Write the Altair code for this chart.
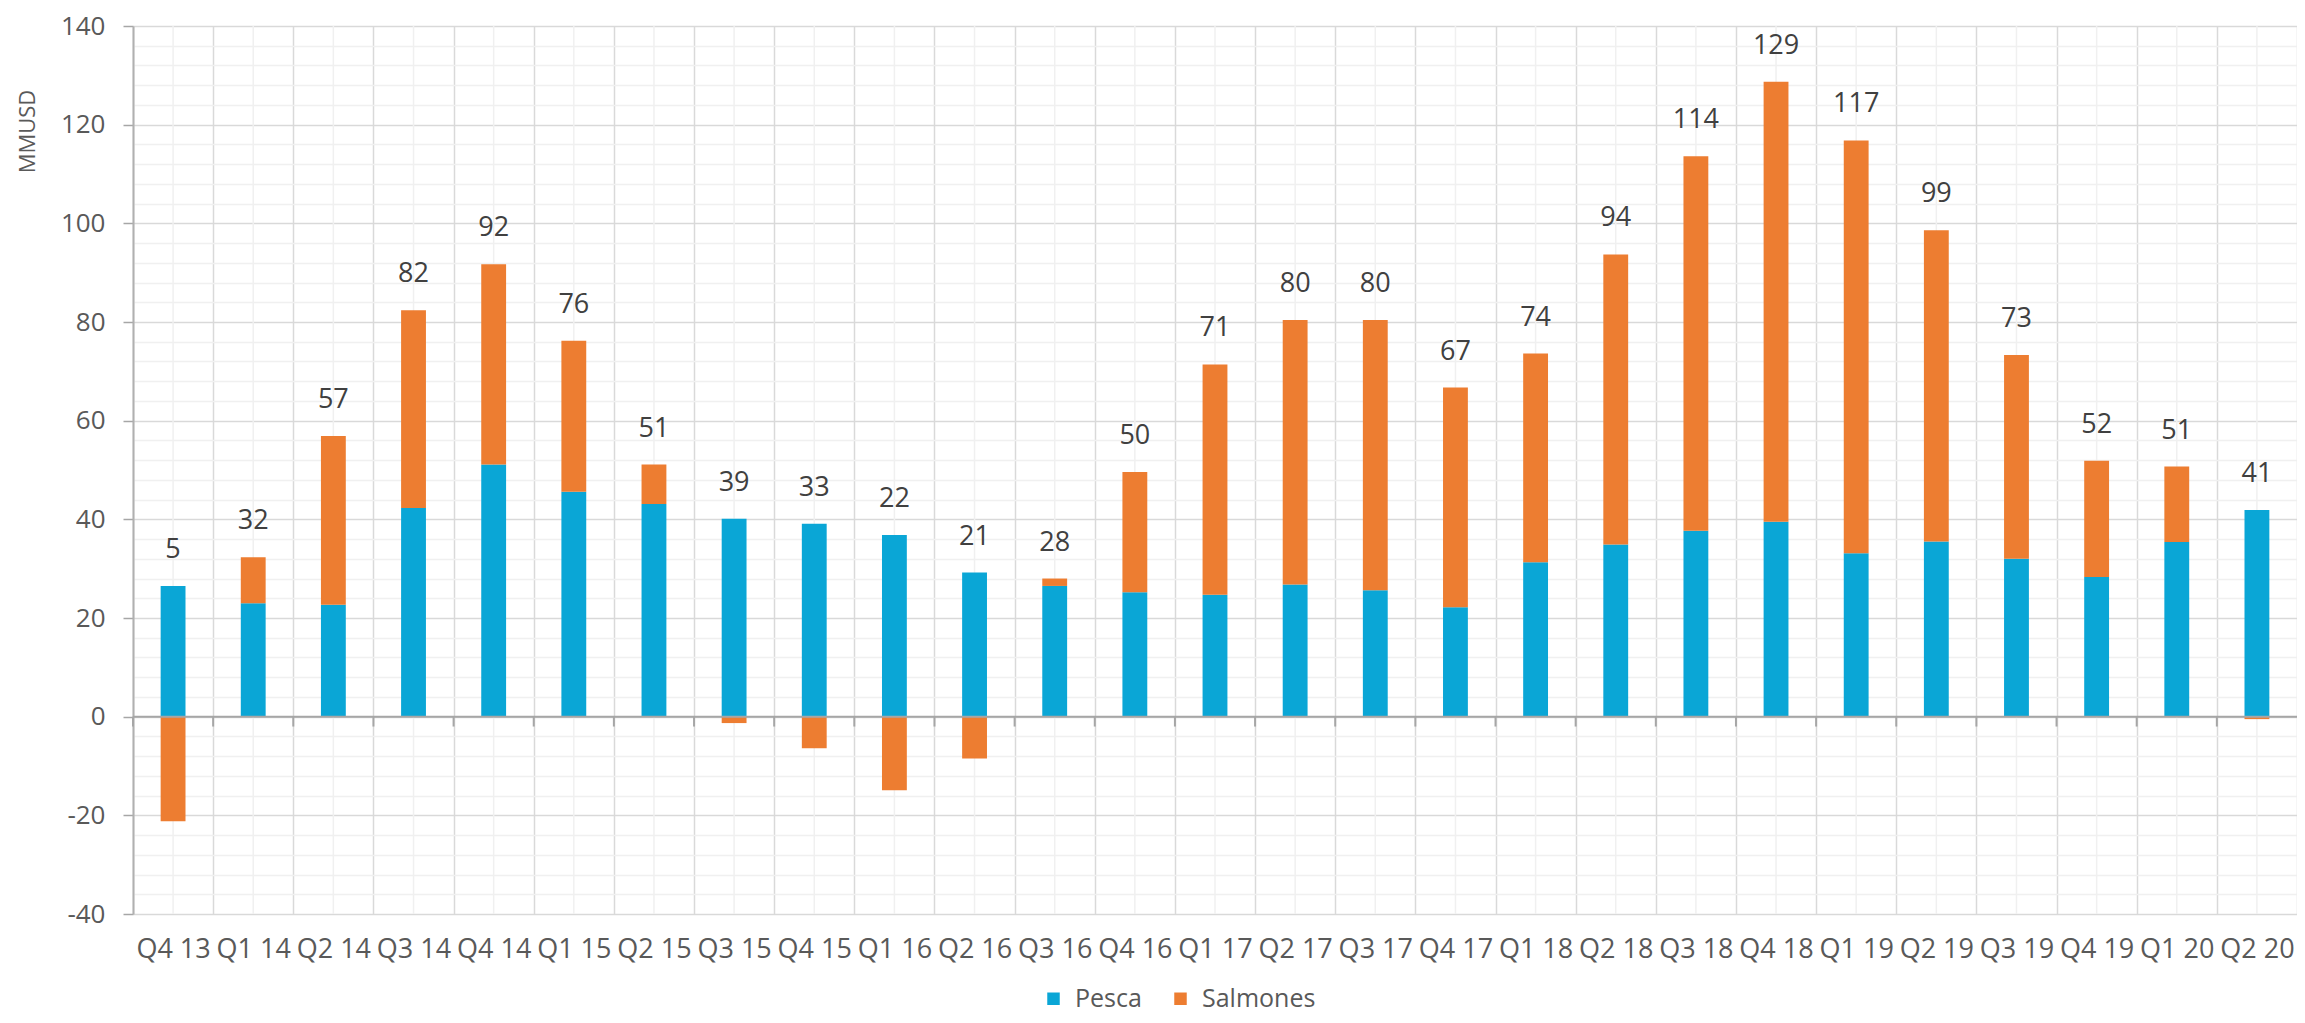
import altair as alt
import pandas as pd

quarters = ["Q4 13", "Q1 14", "Q2 14", "Q3 14", "Q4 14", "Q1 15", "Q2 15", "Q3 15",
            "Q4 15", "Q1 16", "Q2 16", "Q3 16", "Q4 16", "Q1 17", "Q2 17", "Q3 17",
            "Q4 17", "Q1 18", "Q2 18", "Q3 18", "Q4 18", "Q1 19", "Q2 19", "Q3 19",
            "Q4 19", "Q1 20", "Q2 20"]
pesca = [26.5, 23.0, 22.7, 42.3, 51.1, 45.6, 43.1, 40.1, 39.1, 36.8, 29.2, 26.5, 25.2,
         24.7, 26.8, 25.6, 22.2, 31.3, 34.9, 37.7, 39.5, 33.1, 35.5, 32.0, 28.3, 35.4, 41.9]
salmones = [-21.2, 9.3, 34.2, 40.1, 40.6, 30.6, 8.0, -1.3, -6.4, -14.9, -8.5, 1.5, 24.4,
            46.7, 53.6, 54.8, 44.5, 42.3, 58.8, 75.9, 89.2, 83.7, 63.1, 41.3, 23.6, 15.3, -0.5]
totals = [5, 32, 57, 82, 92, 76, 51, 39, 33, 22, 21, 28, 50, 71, 80, 80, 67, 74, 94, 114,
          129, 117, 99, 73, 52, 51, 41]
series = ["Pesca", "Salmones"]
colors = ["#0AA6D6", "#ED7D31"]
y_ticks = list(range(-40, 141, 4))

rows = []
for i, q in enumerate(quarters):
    rows.append({"q": q, "serie": "Pesca", "v": pesca[i], "o": 0})
    rows.append({"q": q, "serie": "Salmones", "v": salmones[i], "o": 1})
df = pd.DataFrame(rows)
lab = pd.DataFrame({
    "q": quarters,
    "top": [p + max(s, 0) for p, s in zip(pesca, salmones)],
    "t": [str(t) for t in totals],
})
cats = pd.DataFrame({"q": quarters, "lo": -40, "hi": 140, "z0": 0, "z1": -2})
zero = pd.DataFrame({"z": [0]})

FONT = "Open Sans"
TXT = "#595959"

xscale = alt.Scale(paddingInner=0, paddingOuter=0)
yscale = alt.Scale(domain=[-40, 140], nice=False, zero=False)

xaxis = alt.Axis(title=None, tickBand="extent", ticks=False, domain=False, grid=True,
                 gridColor="#d9d9d9", gridWidth=1.5, labelAngle=0, labelFont=FONT,
                 labelFontSize=27, labelColor=TXT, labelPadding=22, labelOverlap=False,
                 labelBound=False)
yaxis = alt.Axis(values=y_ticks, title="MMUSD",
                 labelExpr="datum.value % 20 === 0 ? '' + datum.value : ''",
                 gridColor={"condition": {"test": "datum.value % 20 === 0", "value": "#d9d9d9"},
                            "value": "#f0f0f0"},
                 gridWidth=1.5,
                 tickColor={"condition": {"test": "datum.value % 20 === 0", "value": "#a6a6a6"},
                            "value": "transparent"},
                 tickSize=10, tickWidth=1.5, domainColor="#b0b0b0", domainWidth=2,
                 labelFont=FONT, labelFontSize=26, labelColor=TXT, labelPadding=18,
                 titleFont=FONT, titleFontSize=22, titleColor=TXT, titleFontWeight="normal",
                 titleX=-106, titleY=105, titleAlign="center", titleBaseline="middle")


def X(**kw):
    return alt.X("q:N", sort=quarters, scale=xscale, axis=xaxis, **kw)


def Y(field):
    return alt.Y(field, scale=yscale, axis=yaxis)


minor_v = alt.Chart(cats).mark_rule(color="#f0f0f0", strokeWidth=1.5).encode(
    x=X(), y=Y("lo:Q"), y2="hi:Q")

bars = alt.Chart(df).mark_bar(width=alt.RelativeBandSize(0.31)).encode(
    x=X(),
    y=alt.Y("v:Q", stack="zero", scale=yscale, axis=yaxis),
    color=alt.Color("serie:N", scale=alt.Scale(domain=series, range=colors),
                    legend=alt.Legend(orient="none", legendX=908, legendY=960,
                                      direction="horizontal", title=None,
                                      symbolType="square", symbolSize=156,
                                      symbolStrokeWidth=0, labelFont=FONT,
                                      labelFontSize=25, labelColor=TXT, labelOffset=9,
                                      columnPadding=26)),
    order=alt.Order("o:Q"))

zero_line = alt.Chart(zero).mark_rule(color="#a6a6a6", strokeWidth=2).encode(
    y=Y("z:Q"))

zero_ticks = alt.Chart(cats).mark_rule(color="#a6a6a6", strokeWidth=2).encode(
    x=X(bandPosition=0), y=Y("z0:Q"), y2="z1:Q")

labels = alt.Chart(lab).mark_text(dy=-36, baseline="middle", font=FONT, fontSize=27,
                                  color="#404040").encode(
    x=X(), y=Y("top:Q"), text="t:N")

chart = alt.layer(minor_v, bars, zero_line, zero_ticks, labels).properties(
    width=2164, height=888,
    padding={"left": 125, "top": 18, "right": 0, "bottom": 101},
    autosize=alt.AutoSizeParams(type="none"),
).configure_view(stroke=None)

chart.save("out.html", embed_options={"renderer": "svg", "actions": False})
